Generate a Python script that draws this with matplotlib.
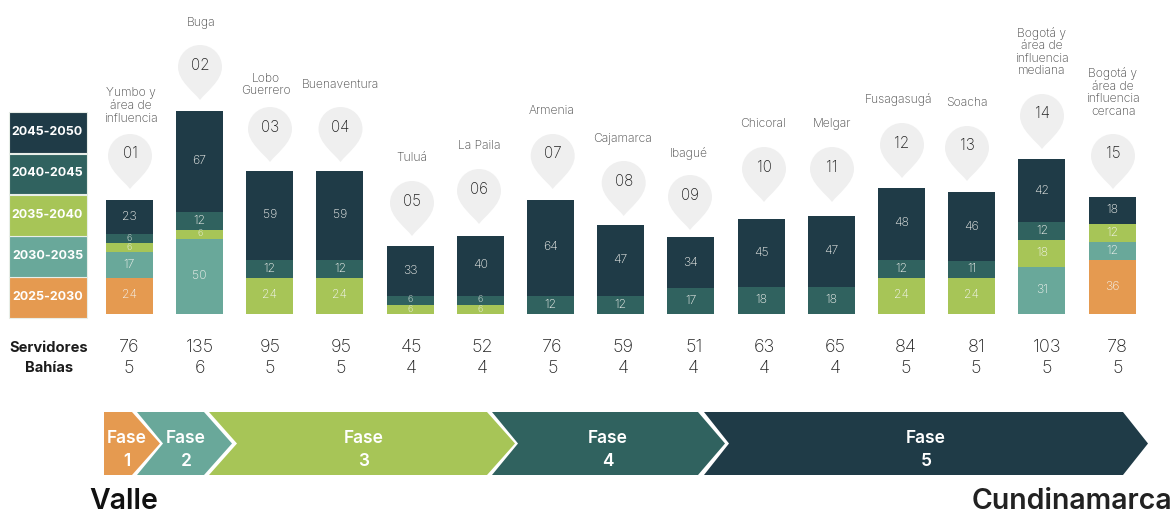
import numpy as np
import matplotlib.pyplot as plt
from matplotlib.patches import PathPatch, Polygon, Rectangle
from matplotlib.path import Path

plt.rcParams['font.family'] = ['Inter', 'DejaVu Sans']

W, H = 1175, 516
NAVY, GREEN, LIME, TEAL, ORANGE = '#1f3b47', '#30625f', '#a7c557', '#69a89a', '#e59a50'

periods = ['2025-2030', '2030-2035', '2035-2040', '2040-2045', '2045-2050']
names = ['Yumbo y\nárea de\ninfluencia', 'Buga', 'Lobo\nGuerrero', 'Buenaventura', 'Tuluá', 'La Paila',
         'Armenia', 'Cajamarca', 'Ibagué', 'Chicoral', 'Melgar', 'Fusagasugá', 'Soacha',
         'Bogotá y\nárea de\ninfluencia\nmediana', 'Bogotá y\nárea de\ninfluencia\ncercana']
v_2025 = [24, 0, 0, 0, 0, 0, 0, 0, 0, 0, 0, 0, 0, 0, 36]
v_2030 = [17, 50, 0, 0, 0, 0, 0, 0, 0, 0, 0, 0, 0, 31, 12]
v_2035 = [6, 6, 24, 24, 6, 6, 0, 0, 0, 0, 0, 24, 24, 18, 12]
v_2040 = [6, 12, 12, 12, 6, 6, 12, 12, 17, 18, 18, 12, 11, 12, 0]
v_2045 = [23, 67, 59, 59, 33, 40, 64, 47, 34, 45, 47, 48, 46, 42, 18]
servidores = [76, 135, 95, 95, 45, 52, 76, 59, 51, 63, 65, 84, 81, 103, 78]
bahias = [5, 6, 5, 5, 4, 4, 5, 4, 4, 4, 4, 5, 5, 5, 5]
fases = ['Fase\n1', 'Fase\n2', 'Fase\n3', 'Fase\n4', 'Fase\n5']

# where the pins and place names sit, in pixels
pin_x = [130, 200, 270, 340.5, 412, 479, 552.7, 623.7, 690, 764, 832, 902, 967, 1042, 1113]
pin_tip = [189, 100, 162, 162, 236, 224, 189, 216, 230, 202, 202, 178, 181, 149, 189]
name_x = [131, 201, 265.5, 340, 411.7, 479, 551.7, 622.7, 689, 763, 832, 898, 967, 1041.7, 1113]
name_y = [106, 23, 85, 85, 158, 146, 111, 139, 153, 124, 124, 100, 103, 52, 92.5]

fig = plt.figure(figsize=(W / 100, H / 100), dpi=100)

# bars: 70.2 px per site, 1.5 px per server, baseline at y = 313.5
ax = fig.add_axes([0, 0, 1, 1])
ax.set_xlim(-129.3 / 70.2, (W - 129.3) / 70.2)
ax.set_ylim(-(H - 313.5) / 1.5, 313.5 / 1.5)
ax.axis('off')

x = np.arange(len(names))
bottom = np.zeros(len(names))
series = [v_2025, v_2030, v_2035, v_2040, v_2045]
colors = [ORANGE, TEAL, LIME, GREEN, NAVY]
for vals, col in zip(series, colors):
    bars = ax.bar(x, vals, 0.667, bottom=bottom, color=col, linewidth=0)
    # the thin 6-server segments get a smaller number so stacked labels stay legible
    labels = ax.bar_label(bars, labels=[str(v) if v else '' for v in vals], label_type='center',
                          color='#f4f4f0', fontsize=8.8, fontweight='light')
    for lab, v in zip(labels, vals):
        if v == 6:
            lab.set_fontsize(6.4)
    bottom += np.array(vals)

# everything else is laid out in pixel coordinates
ov = fig.add_axes([0, 0, 1, 1], zorder=2)
ov.set_xlim(0, W)
ov.set_ylim(H, 0)
ov.axis('off')
ov.patch.set_alpha(0)


def draw_pin(cx, tip, label):
    r = 22
    cy = tip - 33
    k = r * 0.5523
    verts = [(cx, tip),
             (cx - 6, tip - 8), (cx - r, tip - 19), (cx - r, cy),
             (cx - r, cy - k), (cx - k, cy - r), (cx, cy - r),
             (cx + k, cy - r), (cx + r, cy - k), (cx + r, cy),
             (cx + r, tip - 19), (cx + 6, tip - 8), (cx, tip),
             (cx, tip)]
    codes = [Path.MOVETO] + [Path.CURVE4] * 12 + [Path.CLOSEPOLY]
    ov.add_patch(PathPatch(Path(verts, codes), facecolor='#efefef', edgecolor='none'))
    ov.text(cx, cy - 2, label, ha='center', va='center', fontsize=11, fontweight='light', color='#222222')


for i, name in enumerate(names):
    draw_pin(pin_x[i], pin_tip[i], f'{i + 1:02d}')
    ov.text(name_x[i], name_y[i], name, ha='center', va='center', fontsize=8.7, fontweight='light',
            color='#444444', linespacing=1.06)
    ov.text(129 + 70.6 * i, 348, str(servidores[i]), ha='center', va='center', fontsize=13,
            fontweight='light', color='#222222')
    ov.text(129 + 70.6 * i, 368.5, str(bahias[i]), ha='center', va='center', fontsize=13,
            fontweight='light', color='#222222')

# period key, newest on top
key_top = [277, 236, 195, 153.5, 112]
for p, col, top in zip(periods, colors, key_top):
    ov.add_patch(Rectangle((8.5, top), 78.5, 40.5, facecolor=col, edgecolor='#e8eee8', linewidth=0.8))
    ov.text(47.5, top + 20, p, ha='center', va='center', color='white', fontsize=9, fontweight='bold')

ov.text(49, 348, 'Servidores', ha='center', va='center', fontsize=10.6, fontweight='bold', color='#1c1c1c')
ov.text(49, 367.5, 'Bahías', ha='center', va='center', fontsize=10.6, fontweight='bold', color='#1c1c1c')

# phase arrows: left edge, notch, top-right corner, point
y0, ym, y1 = 412, 443.5, 475
arrows = [(104, None, 132, 160, ORANGE), (137, 163, 204, 232, TEAL), (209, 237, 487, 515, LIME),
          (492, 518, 698, 725, GREEN), (704, 729, 1123, 1148, NAVY)]
fase_x = [127, 186, 364, 608, 926]
for (left, notch, corner, point, col), label, fx in zip(arrows, fases, fase_x):
    pts = [(left, y0), (corner, y0), (point, ym), (corner, y1), (left, y1)]
    if notch:
        pts.append((notch, ym))
    ov.add_patch(Polygon(pts, closed=True, facecolor=col, edgecolor='none'))
    ov.text(fx, 450, label, ha='center', va='center', color='white', fontsize=12.5, fontweight='semibold',
            linespacing=1.4)

ov.text(89, 515, 'Valle', ha='left', va='bottom', fontsize=20.5, fontweight='semibold', color='#111111')
ov.text(1172, 515, 'Cundinamarca', ha='right', va='bottom', fontsize=20.5, fontweight='semibold', color='#222222')

plt.savefig('out.png', dpi=100)
